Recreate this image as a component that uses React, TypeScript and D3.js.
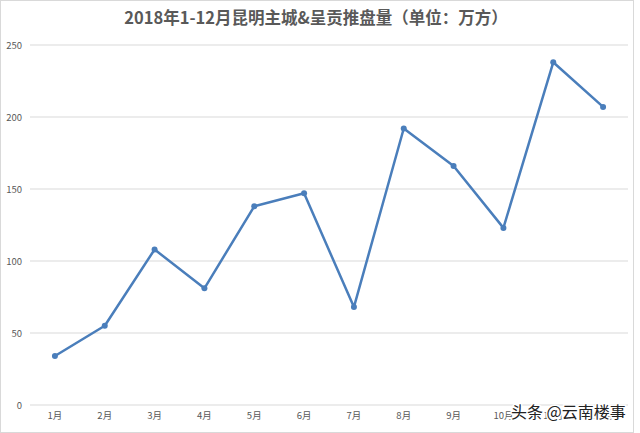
import React from "react";
import * as d3 from "d3";

const categories = ["1月", "2月", "3月", "4月", "5月", "6月", "7月", "8月", "9月", "10月", "11月", "12月"];
const values = [34, 55, 108, 81, 138, 147, 68, 192, 166, 123, 238, 207];
const yTicks = [0, 50, 100, 150, 200, 250];
const title = "2018年1-12月昆明主城&呈贡推盘量（单位：万方）";
const watermark = "头条 @云南楼事";

export default function App() {
  const W = 640, H = 433;
  const left = 30, right = 628, top = 45, bottom = 405;
  const x = d3.scaleBand<string>().domain(categories).range([left, right]);
  const y = d3.scaleLinear().domain([0, 250]).range([bottom, top]);
  const line = d3.line<number>()
    .x((_, i) => (x(categories[i]) as number) + x.bandwidth() / 2)
    .y((d) => y(d));
  const font = "'Microsoft YaHei', 'Noto Sans CJK SC', 'Open Sans', sans-serif";
  return (
    <svg width={W} height={H} style={{ position: "absolute", left: 0, top: 0 }}>
      <rect x={0} y={0} width={W} height={H} fill="#fff" />
      <rect x={0.5} y={0.5} width={W - 7} height={H - 1} fill="none" stroke="#d9d9d9" />
      <text x={316} y={24} textAnchor="middle" fontFamily={font} fontWeight="bold" fontSize={16.5} fill="#595959">{title}</text>
      {yTicks.map((t) => (
        <g key={t}>
          <line x1={left} x2={right} y1={y(t)} y2={y(t)} stroke="#d9d9d9" strokeWidth={1} />
          <text x={22} y={y(t) + 3.5} textAnchor="end" fontFamily={font} fontSize={9.5} fill="#595959">{t}</text>
        </g>
      ))}
      {categories.map((c) => (
        <text key={c} x={(x(c) as number) + x.bandwidth() / 2} y={419} textAnchor="middle" fontFamily={font} fontSize={9.5} fill="#595959">{c}</text>
      ))}
      <path d={line(values) || ""} fill="none" stroke="#4a7ebb" strokeWidth={2.5} strokeLinejoin="round" />
      {values.map((v, i) => (
        <circle key={i} cx={(x(categories[i]) as number) + x.bandwidth() / 2} cy={y(v)} r={3} fill="#4a7ebb" />
      ))}
      <text x={511} y={418} fontFamily={font} fontSize={16} fill="#222" stroke="#fff" strokeWidth={3} paintOrder="stroke">{watermark}</text>
    </svg>
  );
}
